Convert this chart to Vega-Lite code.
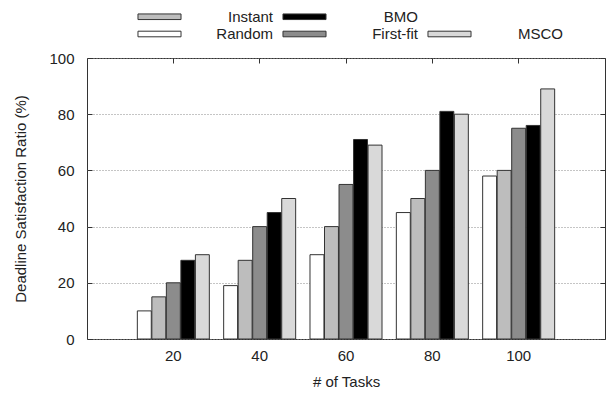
{
  "$schema": "https://vega.github.io/schema/vega-lite/v6.json",
  "width": 518,
  "height": 281,
  "autosize": {"type": "none"},
  "padding": {"left": 87, "top": 58, "right": 1, "bottom": 55},
  "config": {
    "font": "Liberation Sans",
    "view": {"stroke": "#333", "strokeWidth": 1},
    "axis": {
      "labelFont": "Liberation Sans",
      "titleFont": "Liberation Sans",
      "labelFontSize": 15,
      "titleFontSize": 15,
      "labelColor": "#222",
      "titleColor": "#222",
      "titleFontWeight": "normal",
      "domain": false,
      "tickColor": "#333",
      "tickSize": -5
    }
  },
  "data": {
    "values": [
      {"tasks": 20, "algo": "Random", "ratio": 10},
      {"tasks": 20, "algo": "Instant", "ratio": 15},
      {"tasks": 20, "algo": "First-fit", "ratio": 20},
      {"tasks": 20, "algo": "BMO", "ratio": 28},
      {"tasks": 20, "algo": "MSCO", "ratio": 30},
      {"tasks": 40, "algo": "Random", "ratio": 19},
      {"tasks": 40, "algo": "Instant", "ratio": 28},
      {"tasks": 40, "algo": "First-fit", "ratio": 40},
      {"tasks": 40, "algo": "BMO", "ratio": 45},
      {"tasks": 40, "algo": "MSCO", "ratio": 50},
      {"tasks": 60, "algo": "Random", "ratio": 30},
      {"tasks": 60, "algo": "Instant", "ratio": 40},
      {"tasks": 60, "algo": "First-fit", "ratio": 55},
      {"tasks": 60, "algo": "BMO", "ratio": 71},
      {"tasks": 60, "algo": "MSCO", "ratio": 69},
      {"tasks": 80, "algo": "Random", "ratio": 45},
      {"tasks": 80, "algo": "Instant", "ratio": 50},
      {"tasks": 80, "algo": "First-fit", "ratio": 60},
      {"tasks": 80, "algo": "BMO", "ratio": 81},
      {"tasks": 80, "algo": "MSCO", "ratio": 80},
      {"tasks": 100, "algo": "Random", "ratio": 58},
      {"tasks": 100, "algo": "Instant", "ratio": 60},
      {"tasks": 100, "algo": "First-fit", "ratio": 75},
      {"tasks": 100, "algo": "BMO", "ratio": 76},
      {"tasks": 100, "algo": "MSCO", "ratio": 89}
    ]
  },
  "layer": [
    {
      "mark": {"type": "bar", "strokeWidth": 1},
      "encoding": {
        "x": {
          "field": "tasks",
          "type": "ordinal",
          "scale": {"paddingInner": 0.166, "paddingOuter": 0.583},
          "axis": {"title": "# of Tasks", "labelAngle": 0, "labelPadding": 14, "titlePadding": 11}
        },
        "xOffset": {
          "field": "algo",
          "type": "nominal",
          "sort": ["Random", "Instant", "First-fit", "BMO", "MSCO"],
          "scale": {"paddingInner": 0.04}
        },
        "y": {
          "field": "ratio",
          "type": "quantitative",
          "scale": {"domain": [0, 100], "nice": false},
          "axis": {
            "title": "Deadline Satisfaction Ratio (%)",
            "values": [0, 20, 40, 60, 80, 100],
            "grid": true,
            "gridDash": [1, 2],
            "gridColor": "#8a8a8a",
            "labelPadding": 18,
            "titlePadding": 20
          }
        },
        "stroke": {
          "field": "algo",
          "type": "nominal",
          "scale": {
            "domain": ["Instant", "BMO", " ", "Random", "First-fit", "MSCO"],
            "range": ["#333333", "#333333", "rgba(0,0,0,0)", "#333333", "#333333", "#333333"]
          }
        },
        "fill": {
          "field": "algo",
          "type": "nominal",
          "scale": {
            "domain": ["Instant", "BMO", " ", "Random", "First-fit", "MSCO"],
            "range": ["#bdbdbd", "#000000", "rgba(0,0,0,0)", "#ffffff", "#8c8c8c", "#d9d9d9"]
          },
          "legend": {
            "orient": "none",
            "legendX": 64,
            "legendY": -50,
            "direction": "horizontal",
            "columns": 3,
            "title": null,
            "padding": 0,
            "symbolType": "M-2.69,-0.35H2.69V0.35H-2.69Z",
            "symbolSize": 256,
            "symbolStrokeWidth": 1,
            "symbolOpacity": 1,
            "labelFontSize": 15,
            "labelFont": "Liberation Sans",
            "labelColor": "#222",
            "labelAlign": "right",
            "labelOffset": 105,
            "labelLimit": 300,
            "columnPadding": 7,
            "rowPadding": 0.5,
            "labelExpr": "datum.value == ' ' ? '' : datum.label"
          }
        }
      }
    },
    {
      "mark": {"type": "point", "opacity": 0},
      "encoding": {
        "x": {"field": "tasks", "type": "ordinal", "axis": {"title": null, "labels": false}},
        "y": {
          "field": "ratio",
          "type": "quantitative",
          "axis": {"title": null, "labels": false, "grid": false, "values": [0, 20, 40, 60, 80, 100]}
        }
      }
    }
  ],
  "resolve": {"axis": {"x": "independent", "y": "independent"}}
}
